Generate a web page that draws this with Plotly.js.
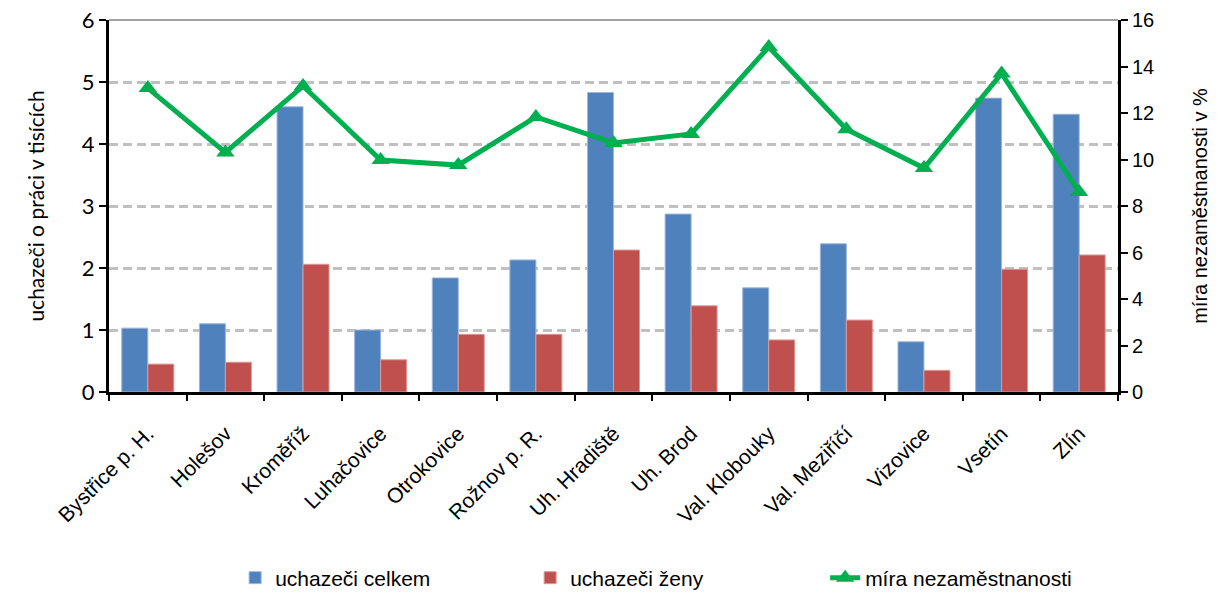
<!DOCTYPE html>
<html>
<head>
<meta charset="utf-8">
<script src="https://cdn.plot.ly/plotly-3.0.1.min.js"></script>
<style>
  body { margin: 0; background: #fff; }
  #chart { width: 1217px; height: 593px; }
</style>
</head>
<body>
<div id="chart"></div>
<script>
// districts (ORP) of the Zlín region
var districts = ['Bystřice p. H.', 'Holešov', 'Kroměříž', 'Luhačovice', 'Otrokovice', 'Rožnov p. R.',
  'Uh. Hradiště', 'Uh. Brod', 'Val. Klobouky', 'Val. Meziříčí', 'Vizovice', 'Vsetín', 'Zlín'];

// job seekers in thousands
var seekersTotal = [1.03, 1.10, 4.60, 1.00, 1.84, 2.13, 4.83, 2.87, 1.68, 2.39, 0.81, 4.74, 4.48];
var seekersWomen = [0.45, 0.48, 2.06, 0.52, 0.93, 0.93, 2.29, 1.39, 0.84, 1.16, 0.35, 1.98, 2.21];

// unemployment rate in %
var unemploymentRate = [13.07, 10.3, 13.16, 9.98, 9.76, 11.83, 10.71, 11.1, 14.84, 11.3, 9.63, 13.7, 8.6];

var leftTicks = [0, 1, 2, 3, 4, 5, 6];
var rightTicks = [0, 2, 4, 6, 8, 10, 12, 14, 16];

var totalTrace = {
  x: districts,
  y: seekersTotal,
  name: 'uchazeči celkem',
  type: 'bar',
  marker: { color: '#4F81BD', line: { color: '#9DB6DA', width: 1 } }
};

var womenTrace = {
  x: districts,
  y: seekersWomen,
  name: 'uchazeči ženy',
  type: 'bar',
  marker: { color: '#C0504D', line: { color: '#DE9A98', width: 1 } }
};

var rateTrace = {
  x: districts,
  y: unemploymentRate,
  name: 'míra nezaměstnanosti',
  type: 'scatter',
  mode: 'lines+markers',
  yaxis: 'y2',
  line: { color: '#00B050', width: 5 },
  marker: { symbol: 'triangle-up', size: 16, color: '#00B050' }
};

var layout = {
  width: 1217,
  height: 593,
  margin: { l: 109, r: 99, t: 20, b: 201, autoexpand: false },
  paper_bgcolor: '#fff',
  plot_bgcolor: '#fff',
  barmode: 'group',
  bargap: 0.33,
  bargroupgap: 0,
  showlegend: true,
  legend: {
    orientation: 'h',
    x: 0.125, xanchor: 'left',
    y: -0.5, yanchor: 'middle',
    font: { family: 'Liberation Sans, Arial', size: 21, color: '#000' },
    entrywidth: 250,
    entrywidthmode: 'pixels'
  },
  xaxis: {
    type: 'category',
    range: [-0.5, 12.5],
    automargin: false,
    tickangle: -45,
    tickson: 'boundaries',
    ticks: 'outside',
    ticklen: 6,
    tickwidth: 2,
    tickcolor: '#000',
    ticklabelstandoff: 18,
    showline: true,
    linecolor: '#000',
    linewidth: 3,
    showgrid: false,
    tickfont: { family: 'Liberation Sans, Arial', size: 21, color: '#000' }
  },
  yaxis: {
    range: [0, 6],
    automargin: false,
    tickvals: leftTicks,
    ticks: 'outside',
    ticklen: 7,
    tickwidth: 2,
    tickcolor: '#000',
    showline: true,
    linecolor: '#000',
    linewidth: 3,
    showgrid: true,
    gridcolor: '#C0C0C0',
    gridwidth: 3,
    griddash: '9px,5px',
    zeroline: false,
    tickfont: { family: 'Lato, Open Sans', size: 22, color: '#000' },
    title: { text: 'uchazeči o práci v tisících', font: { family: 'Lato, Open Sans', size: 21, color: '#000' }, standoff: 32 }
  },
  yaxis2: {
    overlaying: 'y',
    side: 'right',
    range: [0, 16],
    automargin: false,
    tickvals: rightTicks,
    ticks: 'outside',
    ticklen: 7,
    tickwidth: 2,
    tickcolor: '#000',
    showline: true,
    linecolor: '#000',
    linewidth: 3,
    showgrid: false,
    zeroline: false,
    tickfont: { family: 'Liberation Sans, Arial', size: 20, color: '#000' },
    title: { text: 'míra nezaměstnanosti v %', font: { family: 'Liberation Sans, Arial', size: 20, color: '#000' }, standoff: 40 }
  },
  shapes: [
    { type: 'line', xref: 'paper', yref: 'paper', x0: 0, x1: 1, y0: 1, y1: 1, line: { color: '#444', width: 1 } }
  ]
};

Plotly.newPlot('chart', [totalTrace, womenTrace, rateTrace], layout, { displayModeBar: false, staticPlot: true });
</script>
</body>
</html>
